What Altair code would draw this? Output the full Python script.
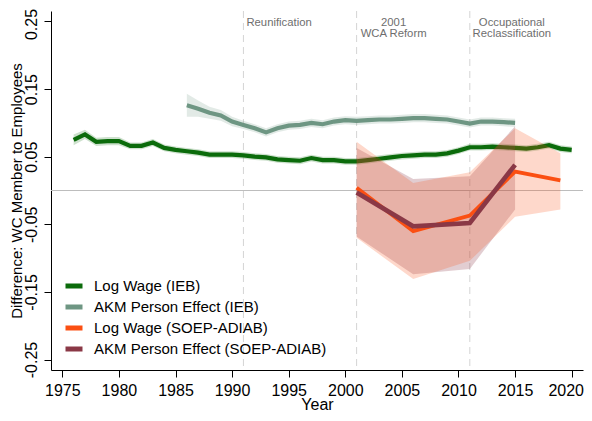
import altair as alt
import pandas as pd

FONT = "Liberation Sans"

# ---- data ----
years_lw_ieb = list(range(1976, 2021))
lw_ieb = [0.075, 0.083, 0.072, 0.073, 0.073, 0.066, 0.066, 0.071, 0.063, 0.060,
          0.058, 0.056, 0.053, 0.053, 0.053, 0.052, 0.050, 0.049, 0.046, 0.045,
          0.044, 0.048, 0.045, 0.045, 0.043, 0.043, 0.045, 0.047, 0.049, 0.051,
          0.052, 0.053, 0.053, 0.055, 0.059, 0.064, 0.064, 0.065, 0.064, 0.063,
          0.062, 0.064, 0.067, 0.062, 0.060]
lw_ieb_ci = [0.008, 0.007, 0.006, 0.006, 0.006, 0.005, 0.005, 0.005, 0.005, 0.005,
             0.005, 0.005, 0.005, 0.005, 0.005, 0.005, 0.005, 0.005, 0.005, 0.005,
             0.005, 0.005, 0.005, 0.005, 0.005, 0.005, 0.005, 0.005, 0.005, 0.005,
             0.005, 0.005, 0.005, 0.005, 0.005, 0.005, 0.005, 0.005, 0.005, 0.005,
             0.005, 0.005, 0.005, 0.005, 0.005]

years_akm_ieb = list(range(1986, 2016))
akm_ieb = [0.126, 0.121, 0.115, 0.111, 0.102, 0.097, 0.092, 0.086, 0.092, 0.096,
           0.097, 0.100, 0.098, 0.102, 0.104, 0.103, 0.104, 0.105, 0.105, 0.106,
           0.107, 0.107, 0.106, 0.105, 0.102, 0.099, 0.102, 0.102, 0.101, 0.100]
akm_ieb_ci = [0.017, 0.012, 0.009, 0.008, 0.007, 0.006, 0.006, 0.006, 0.006, 0.006,
              0.006, 0.006, 0.006, 0.006, 0.006, 0.006, 0.006, 0.006, 0.006, 0.006,
              0.006, 0.006, 0.006, 0.006, 0.006, 0.006, 0.006, 0.006, 0.006, 0.006]

years_lw_soep = [2001, 2006, 2011, 2015, 2019]
lw_soep = [0.004, -0.060, -0.037, 0.028, 0.015]
lw_soep_lo = [-0.070, -0.131, -0.104, -0.039, -0.028]
lw_soep_hi = [0.072, 0.011, 0.027, 0.092, 0.055]

years_akm_soep = [2001, 2006, 2011, 2015]
akm_soep = [-0.003, -0.053, -0.048, 0.038]
akm_soep_lo = [-0.068, -0.124, -0.116, -0.028]
akm_soep_hi = [0.063, 0.017, 0.021, 0.095]

series_names = ["Log Wage (IEB)", "AKM Person Effect (IEB)",
                "Log Wage (SOEP-ADIAB)", "AKM Person Effect (SOEP-ADIAB)"]
series_colors = ["#0b6b0b", "#6e9683", "#fb4f12", "#8a3846"]

event_years = [1991, 2001, 2011]
event_labels = ["Reunification", "2001\nWCA Reform", "Occupational\nReclassification"]

x_ticks = [1975, 1980, 1985, 1990, 1995, 2000, 2005, 2010, 2015, 2020]
y_ticks = [-0.25, -0.15, -0.05, 0.05, 0.15, 0.25]


def frame(years, vals, lo, hi, name):
    return pd.DataFrame({"year": years, "value": vals, "lo": lo, "hi": hi, "series": name})


df_lw_ieb = frame(years_lw_ieb, lw_ieb,
                  [v - c for v, c in zip(lw_ieb, lw_ieb_ci)],
                  [v + c for v, c in zip(lw_ieb, lw_ieb_ci)], series_names[0])
df_akm_ieb = frame(years_akm_ieb, akm_ieb,
                   [v - c for v, c in zip(akm_ieb, akm_ieb_ci)],
                   [v + c for v, c in zip(akm_ieb, akm_ieb_ci)], series_names[1])
df_lw_soep = frame(years_lw_soep, lw_soep, lw_soep_lo, lw_soep_hi, series_names[2])
df_akm_soep = frame(years_akm_soep, akm_soep, akm_soep_lo, akm_soep_hi, series_names[3])

x_scale = alt.Scale(domain=[1974, 2021], nice=False, zero=False)
y_scale = alt.Scale(domain=[-0.2655, 0.2655], nice=False, zero=False)

x_axis = alt.Axis(values=x_ticks, format="d", title="Year", grid=False,
                  labelFontSize=16, labelFont=FONT, labelColor="black",
                  tickSize=7, tickColor="black", domainColor="black",
                  labelPadding=5, labelFlush=False,
                  labelOffset={"condition": {"test": "datum.value > 2017", "value": -6},
                               "value": 0},
                  titleFontSize=16, titleFont=FONT,
                  titleFontWeight="normal", titleColor="black",
                  titleY=39.5, titleBaseline="alphabetic")
y_axis = alt.Axis(values=y_ticks, title="Difference: WC Member to Employees", grid=False,
                  labelExpr="replace(format(datum.value, '.2f'), '\u2212', '-')",
                  labelAngle=-90, labelAlign="center", labelBaseline="alphabetic",
                  labelFontSize=16, labelFont=FONT, labelColor="black",
                  labelFlush=False,
                  labelOffset={"condition": {"test": "datum.value > 0.2", "value": 2.5},
                               "value": 0},
                  tickSize=7, tickColor="black", domainColor="black",
                  labelPadding=8, titleFontSize=15, titleFont=FONT,
                  titleFontWeight="normal", titleColor="black",
                  titleX=-35, titleY=179.5, titleAlign="center", titleBaseline="middle",
                  titleAngle=270)

X = alt.X("year:Q", scale=x_scale, axis=x_axis)
Y = alt.Y("value:Q", scale=y_scale, axis=y_axis)

color = alt.Color("series:N",
                  scale=alt.Scale(domain=series_names, range=series_colors),
                  legend=alt.Legend(title=None, orient="none", legendX=12, legendY=264,
                                    symbolType="stroke", symbolStrokeWidth=5,
                                    symbolSize=289, labelFontSize=15, labelFont=FONT,
                                    labelColor="black", rowPadding=-1.7, labelOffset=9,
                                    labelLimit=400, padding=0))

zero = alt.Chart(pd.DataFrame({"value": [0.0]})).mark_rule(
    color="#bdbdbd", strokeWidth=1.2).encode(y=alt.Y("value:Q", scale=y_scale))

events = pd.DataFrame({"year": event_years, "label": event_labels,
                       "ypos": [0.248, 0.248, 0.248]})
event_rules = alt.Chart(events).mark_rule(
    color="#d4d4d4", strokeWidth=1, strokeDash=[7, 5]).encode(
    x=alt.X("year:Q", scale=x_scale))

ann1 = alt.Chart(events.iloc[[0]]).mark_text(
    align="left", baseline="middle", dx=3, fontSize=11.3, font=FONT,
    color="#6e6e6e").encode(
    x=alt.X("year:Q", scale=x_scale), y=alt.Y("ypos:Q", scale=y_scale), text="label:N")
ann2 = alt.Chart(events.iloc[[1]]).mark_text(
    align="center", baseline="middle", dx=37, fontSize=11.3, font=FONT, lineBreak="\n",
    lineHeight=11, color="#6e6e6e").encode(
    x=alt.X("year:Q", scale=x_scale), y=alt.Y("ypos:Q", scale=y_scale), text="label:N")
ann3 = alt.Chart(events.iloc[[2]]).mark_text(
    align="center", baseline="middle", dx=42, fontSize=11.3, font=FONT, lineBreak="\n",
    lineHeight=11, color="#6e6e6e").encode(
    x=alt.X("year:Q", scale=x_scale), y=alt.Y("ypos:Q", scale=y_scale), text="label:N")


def band(df, col, op):
    return alt.Chart(df).mark_area(color=col, opacity=op, interpolate="linear").encode(
        x=alt.X("year:Q", scale=x_scale),
        y=alt.Y("lo:Q", scale=y_scale),
        y2="hi:Q")


def line(df, width):
    return alt.Chart(df).mark_line(strokeWidth=width, interpolate="linear").encode(
        x=X, y=Y, color=color)


chart = alt.layer(
    zero,
    event_rules,
    ann1, ann2, ann3,
    band(df_lw_ieb, series_colors[0], 0.2),
    band(df_akm_ieb, series_colors[1], 0.2),
    line(df_lw_ieb, 4.2),
    line(df_akm_ieb, 4.2),
    band(df_akm_soep, series_colors[3], 0.25),
    band(df_lw_soep, series_colors[2], 0.22),
    line(df_lw_soep, 3.8),
    line(df_akm_soep, 4.6),
).properties(
    width=532, height=359,
    autosize=alt.AutoSizeParams(type="none"),
    padding={"left": 43, "top": 3, "right": 1, "bottom": 43},
).configure_view(stroke=None)

chart.save("out.html", embed_options={"renderer": "svg", "actions": False})
